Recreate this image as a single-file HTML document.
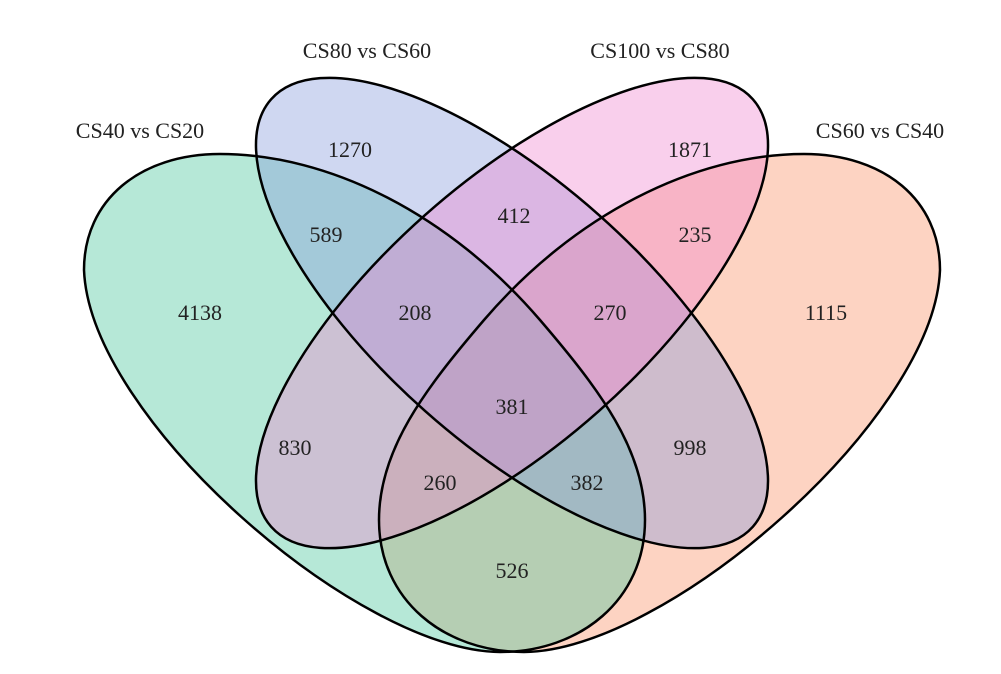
<!DOCTYPE html>
<html><head><meta charset="utf-8"><style>
html,body{margin:0;padding:0;background:#fff;overflow:hidden;}
svg{display:block;}
text{font-family:"Liberation Serif","DejaVu Serif",serif;font-size:22px;fill:#222;}
</style></head><body>
<svg width="1001" height="674" viewBox="0 0 1001 674">
<defs>
<path id="g" d="M 84,270 C 84,200 140,154 220,154 C 330,154 450,215 540,320 C 600,390 645,450 645,520 C 645,600 580,652 500,652 C 360,652 90,420 84,270 Z"/>
</defs>
<g stroke="none">
<use href="#g" transform="translate(1024,0) scale(-1,1)" fill="rgba(250,150,110,0.42)"/>
<use href="#g" fill="rgba(80,200,160,0.42)"/>
<ellipse cx="512" cy="313" rx="322" ry="131" transform="rotate(41.6 512 313)" fill="rgba(135,155,220,0.40)"/>
<ellipse cx="512" cy="313" rx="322" ry="131" transform="rotate(-41.6 512 313)" fill="rgba(240,130,205,0.38)"/>
</g>
<g fill="none" stroke="#000" stroke-width="2.5">
<use href="#g"/>
<use href="#g" transform="translate(1024,0) scale(-1,1)"/>
<ellipse cx="512" cy="313" rx="322" ry="131" transform="rotate(41.6 512 313)"/>
<ellipse cx="512" cy="313" rx="322" ry="131" transform="rotate(-41.6 512 313)"/>
</g>
<g text-anchor="middle">
<text x="140" y="138">CS40 vs CS20</text>
<text x="367" y="58">CS80 vs CS60</text>
<text x="660" y="58">CS100 vs CS80</text>
<text x="880" y="138">CS60 vs CS40</text>
<text x="350" y="157">1270</text>
<text x="690" y="157">1871</text>
<text x="514" y="223">412</text>
<text x="326" y="242">589</text>
<text x="695" y="242">235</text>
<text x="200" y="320">4138</text>
<text x="415" y="320">208</text>
<text x="610" y="320">270</text>
<text x="826" y="320">1115</text>
<text x="512" y="414">381</text>
<text x="295" y="455">830</text>
<text x="690" y="455">998</text>
<text x="440" y="490">260</text>
<text x="587" y="490">382</text>
<text x="512" y="578">526</text>
</g>
</svg>
</body></html>
